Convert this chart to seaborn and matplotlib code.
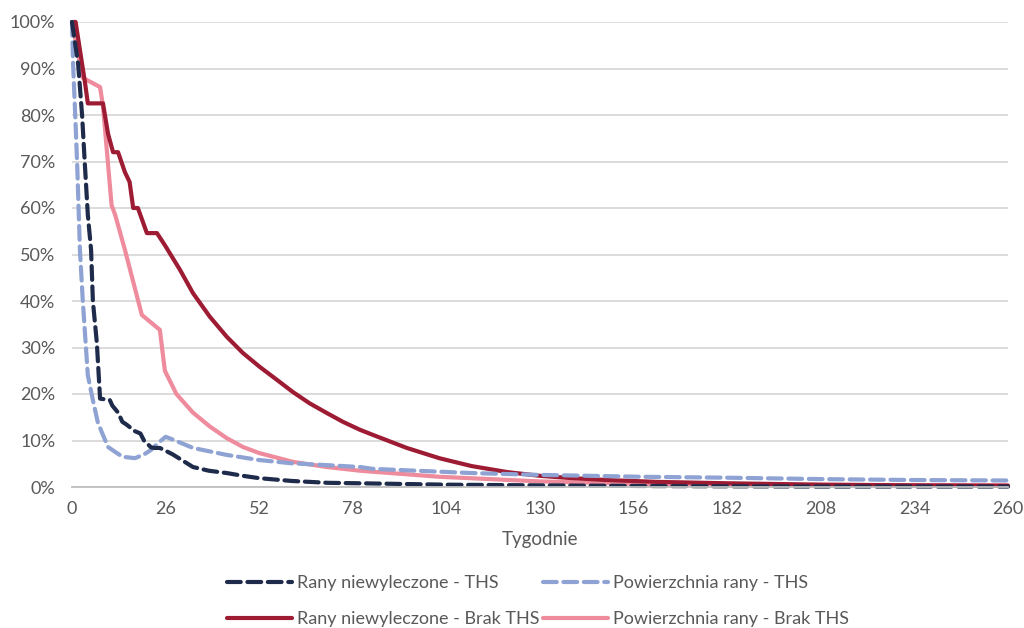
import matplotlib
matplotlib.use("Agg")
import matplotlib.pyplot as plt
from matplotlib.ticker import FuncFormatter
import seaborn as sns
import pandas as pd

# ---- data (weeks, % values) ----
weeks_ths_rany = [0, 1.7, 2.8, 3.6, 4.4, 5.3, 5.8, 6.9, 7.8, 10.5, 11.2, 12.8, 14, 15, 17.5, 19, 20, 22, 23,
                  24.4, 26, 28, 30.5, 33.6, 38, 43, 47.5, 52, 61, 71, 80, 104, 130, 162, 182, 208, 234, 260]
ths_rany = [100, 91, 80, 69, 58.5, 51, 40, 31, 19, 18.7, 17.5, 16, 14, 13.5, 12, 11.5, 10, 8.5, 8.4,
            8.4, 7.8, 7, 5.8, 4.3, 3.5, 3.0, 2.4, 1.9, 1.3, 0.9, 0.8, 0.5, 0.35, 0.2, 0.15, 0.1, 0.1, 0.1]

weeks_ths_pow = [0, 0.3, 1, 1.5, 2.2, 3, 4.4, 5.8, 7.2, 10, 14, 17.5, 20, 22, 24, 26, 28, 33.6, 43, 52,
                 61, 70.8, 80, 83.6, 111, 130, 158, 182, 208, 234, 260]
ths_pow = [100, 91, 78, 68, 51, 40, 24, 18.7, 13.8, 8.6, 6.5, 6.2, 7, 8, 9.5, 10.8, 10.2, 8.4, 6.9, 5.8,
           5.1, 4.7, 4.3, 3.9, 3.0, 2.6, 2.2, 2.0, 1.7, 1.5, 1.4]

weeks_brak_rany = [0, 1, 3.6, 4.4, 8.6, 10, 11.4, 12.8, 14.7, 16, 17, 18.3, 20.8, 23.6, 25.8, 30, 33.6,
                   38.3, 43, 47.5, 52.2, 57, 61.4, 66, 70.8, 75.3, 80, 83.6, 93, 102, 111, 121, 130,
                   139, 148.6, 162.5, 182, 208, 234, 260]
brak_rany = [100, 100, 87, 82.5, 82.5, 76, 72, 72, 67.7, 65.6, 60, 60, 54.6, 54.6, 52, 46.7, 41.7,
             36.6, 32.3, 28.8, 25.8, 23, 20.4, 18, 15.9, 14, 12.3, 11.2, 8.4, 6.2, 4.5, 3.2, 2.4,
             1.9, 1.5, 1.1, 0.8, 0.5, 0.35, 0.25]

weeks_brak_pow = [0, 3, 7.8, 8.6, 11, 12, 14.7, 19.4, 24.4, 25.8, 29, 33.6, 38.3, 43, 47.5, 52, 61.4,
                  70.8, 80, 102, 130, 162, 182, 208, 234, 260]
brak_pow = [100, 88, 86, 82, 60.6, 58.5, 51, 37, 33.8, 25, 20, 16, 13, 10.5, 8.6, 7.3, 5.4,
            4.3, 3.5, 2.2, 1.2, 0.6, 0.5, 0.45, 0.4, 0.4]

labels = ["Rany niewyleczone - THS", "Powierzchnia rany - THS",
          "Rany niewyleczone - Brak THS", "Powierzchnia rany - Brak THS"]
x_ticks = list(range(0, 261, 26))
y_ticks = [i / 10 for i in range(11)]

colors = ["#1F2B4A", "#8EA2D3", "#9E1B34", "#EE8B9C"]

sns.set_theme(style="white")
plt.rcParams["font.family"] = ["Lato", "DejaVu Sans"]

fig = plt.figure(figsize=(10.24, 6.28), dpi=100)
ax = fig.add_axes([72 / 1024, 1 - 487 / 628, (1008 - 72) / 1024, (487 - 22) / 628])

series = [(weeks_ths_rany, ths_rany), (weeks_ths_pow, ths_pow),
          (weeks_brak_rany, brak_rany), (weeks_brak_pow, brak_pow)]
draw_order = [3, 2, 1, 0]
handles = {}
for i in draw_order:
    w, v = series[i]
    df = pd.DataFrame({"w": w, "v": [x / 100 for x in v]})
    sns.lineplot(data=df, x="w", y="v", ax=ax, color=colors[i], linewidth=3.0,
                 label=labels[i], estimator=None, sort=False, legend=False)
    line = ax.lines[-1]
    line.set_clip_on(False)
    line.set_solid_joinstyle("round")
    if i < 2:
        line.set_dashes((3.3, 1.6))
        line.set_dash_capstyle("round")
    handles[i] = line

ax.set_xlim(0, 260)
ax.set_ylim(0, 1.0)
ax.set_xticks(x_ticks)
ax.set_yticks(y_ticks)
ax.yaxis.set_major_formatter(FuncFormatter(lambda y, _: f"{int(round(y * 100))}%"))
ax.grid(axis="y", color="#D9D9D9", linewidth=1.3)
ax.grid(axis="x", visible=False)
for s in ["left", "right", "top"]:
    ax.spines[s].set_visible(False)
ax.spines["bottom"].set_color("#BFBFBF")
ax.spines["bottom"].set_linewidth(1.3)
ax.tick_params(axis="both", length=0, labelsize=13, colors="#595959", pad=10)
ax.tick_params(axis="y", pad=12)
ax.set_xlabel("Tygodnie", fontsize=13.5, color="#595959", labelpad=10)
ax.set_ylabel("")

order = [0, 2, 1, 3]
leg = fig.legend([handles[i] for i in order], [labels[i] for i in order],
                 loc="center", bbox_to_anchor=(538 / 1024, 1 - 601 / 628), ncol=2,
                 frameon=False, fontsize=13, handlelength=3.6, handletextpad=0.3,
                 columnspacing=0.2, labelspacing=1.1)
for t in leg.get_texts():
    t.set_color("#595959")

fig.savefig("out.png", dpi=100)
